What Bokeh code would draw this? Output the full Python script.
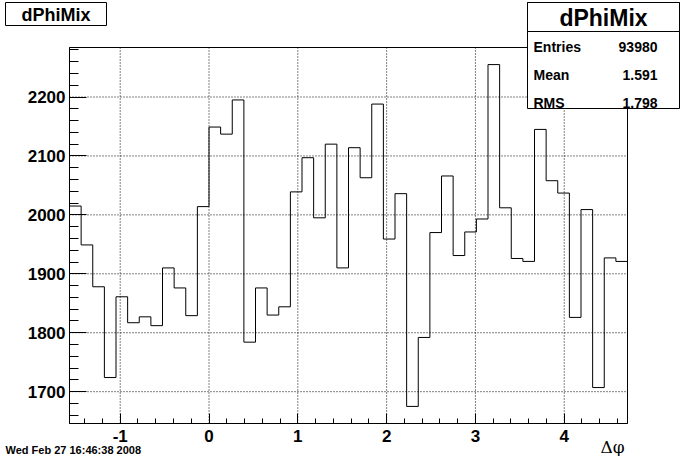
import numpy as np
from bokeh.plotting import figure
from bokeh.models import Label, BoxAnnotation, SingleIntervalTicker, Range1d, PrintfTickFormatter
from bokeh.embed import file_html
from bokeh.resources import INLINE

# ---- data ----
n_bins = 48
x_min = -np.pi / 2
x_max = 3 * np.pi / 2
counts = [2015, 1949, 1878, 1724, 1861, 1817, 1827, 1812, 1910, 1876, 1829, 2014,
          2149, 2137, 2195, 1784, 1876, 1830, 1844, 2039, 2097, 1995, 2120, 1910,
          2114, 2063, 2188, 1959, 2036, 1675, 1792, 1970, 2066, 1931, 1971, 1993,
          2255, 2012, 1926, 1921, 2145, 2058, 2037, 1826, 2009, 1707, 1927, 1921]
x_ticks = [-1, 0, 1, 2, 3, 4]
y_ticks = [1700, 1800, 1900, 2000, 2100, 2200]
hist_title = "dPhiMix"
stat_names = ["Entries", "Mean", "RMS"]
stat_values = ["93980", "1.591", "1.798"]
date_text = "Wed Feb 27 16:46:38 2008"
x_title = "Δφ"

edges = np.linspace(x_min, x_max, n_bins + 1)
ys = counts + [counts[-1]]

cmin, cmax = min(counts), max(counts)
dy = cmax - cmin
y_lo = cmin - 0.05 * dy
y_hi = cmax + 0.05 * dy

FONT = "Liberation Sans"
W, H = 680, 456
# pad box (ROOT frame) inside the canvas
F_LEFT, F_RIGHT, F_TOP, F_BOTTOM = 69, 627, 47, 423

# the Bokeh frame spans the whole canvas; the ranges are widened so that the
# histogram frame lands at the pad-box position
kx = (F_RIGHT - F_LEFT) / (x_max - x_min)
ky = (F_BOTTOM - F_TOP) / (y_hi - y_lo)
xr = Range1d(x_min - F_LEFT / kx, x_max + (W - F_RIGHT) / kx)
yr = Range1d(y_lo - (H - F_BOTTOM) / ky, y_hi + F_TOP / ky)

p = figure(width=W, height=H, output_backend="svg", toolbar_location=None,
           x_range=xr, y_range=yr, min_border=0)
p.title.visible = False
p.background_fill_color = "white"
p.border_fill_color = "white"
p.outline_line_color = None
p.xgrid.visible = False
p.ygrid.visible = False

# dotted grid at the major ticks, limited to the histogram frame
p.segment(x0=x_ticks, y0=[y_lo] * len(x_ticks), x1=x_ticks, y1=[y_hi] * len(x_ticks),
          line_color="black", line_width=1, line_dash="1 2")
p.segment(x0=[x_min] * len(y_ticks), y0=y_ticks, x1=[x_max] * len(y_ticks), y1=y_ticks,
          line_color="black", line_width=1, line_dash="1 2")

# histogram outline
p.step(x=edges, y=ys, mode="after", line_color="black", line_width=1)

# frame box
p.quad(left=[x_min], right=[x_max], bottom=[y_lo], top=[y_hi], fill_color=None,
       line_color="black", line_width=1)

# axes pinned to the histogram frame
p.xaxis.fixed_location = y_lo
p.yaxis.fixed_location = x_min
p.xaxis.bounds = (x_min, x_max)
p.yaxis.bounds = (y_lo, y_hi)
p.xaxis.ticker = SingleIntervalTicker(interval=1, num_minor_ticks=5)
p.yaxis.ticker = SingleIntervalTicker(interval=100, num_minor_ticks=5)
for ax in (p.xaxis, p.yaxis):
    ax.formatter = PrintfTickFormatter(format="%d")
    ax.axis_line_color = "black"
    ax.major_tick_line_color = "black"
    ax.minor_tick_line_color = "black"
    ax.major_tick_out = 0
    ax.minor_tick_out = 0
    ax.major_label_text_font = FONT
    ax.major_label_text_font_style = "bold"
    ax.major_label_text_font_size = "17px"
    ax.major_label_text_color = "black"
p.yaxis.major_tick_in = 17
p.yaxis.minor_tick_in = 9
p.yaxis.major_label_standoff = 4
p.xaxis.major_tick_in = 10
p.xaxis.minor_tick_in = 5
p.xaxis.major_label_standoff = 6

# ---- decorations (canvas units) ----
def box(l, r, t, b):
    return BoxAnnotation(left=l, right=r, top=t, bottom=b,
                         left_units="canvas", right_units="canvas",
                         top_units="canvas", bottom_units="canvas",
                         fill_color="white", fill_alpha=1.0, line_color="black",
                         line_alpha=1.0, line_width=1, level="overlay")

def label(x, y, text, size, align="left", baseline="middle", font=FONT, style="bold"):
    return Label(x=x, y=y, x_units="canvas", y_units="canvas", text=text,
                 text_font=font, text_font_style=style, text_font_size=size,
                 text_align=align, text_baseline=baseline, text_color="black",
                 level="overlay")

# title box
p.add_layout(box(5, 106, 2, 25))
p.add_layout(label(55.5, 14, hist_title, "18px", align="center"))

# stats box
SB_L, SB_R, SB_T, SB_SEP, SB_B = 527, 679, 2, 31, 108
p.add_layout(box(SB_L, SB_R, SB_T, SB_B))
p.add_layout(box(SB_L, SB_R, SB_T, SB_SEP))
p.add_layout(label((SB_L + SB_R) / 2, 17.5, hist_title, "23px", align="center"))
row_y = [46, 74.5, 102]
for name, val, yy in zip(stat_names, stat_values, row_y):
    p.add_layout(label(SB_L + 6, yy, name, "14px"))
    p.add_layout(label(SB_R - 22, yy, val, "14px", align="right"))

# date and axis title
p.add_layout(label(5, 449, date_text, "11px"))
p.add_layout(label(612, 446, x_title, "17px", align="center", font="DejaVu Serif",
                   style="normal"))

open("out.html", "w").write(file_html(p, INLINE))
